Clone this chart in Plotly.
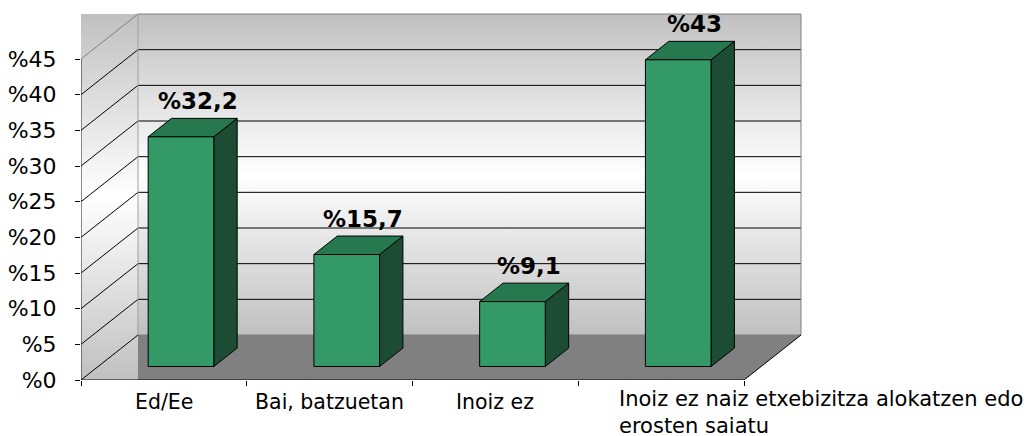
import plotly.graph_objects as go

# ---------------- data ----------------
categories = [
    "Ed/Ee",
    "Bai, batzuetan",
    "Inoiz ez",
    "Inoiz ez naiz etxebizitza alokatzen edo<br>erosten saiatu",
]
values = [32.2, 15.7, 9.1, 43]
y_ticks = [0, 5, 10, 15, 20, 25, 30, 35, 40, 45]
y_tick_labels = ["%" + str(t) for t in y_ticks]

# ---------------- layout constants ----------------
W, H = 1032, 436
L, B, T = 81, 56, 8
R_EDGE = 812
PX_X = 165.75     # pixels per category slot
PX_Y = 7.133      # pixels per percent
plot_w = R_EDGE - L
plot_h = H - B - T

N = len(categories)
YMAX = y_ticks[-1]
DX = 57 / PX_X    # depth offset (x) in axis units
DY = 45 / PX_Y    # depth offset (y) in axis units
BAR_W = 0.396
F1, F2 = 0.30, 0.71

FONT = "DejaVu Sans"
C_FRONT, C_TOP, C_SIDE = "#339966", "#26784f", "#1c4c33"
WALL_SCALE = [[0, "#c0c0c0"], [0.5, "#ffffff"], [1, "#c0c0c0"]]

fig = go.Figure()


def poly(xs, ys, fill=None, line="black", width=1, gradient=None):
    kw = dict(x=xs + [xs[0]], y=ys + [ys[0]], mode="lines",
              line=dict(color=line, width=width), hoverinfo="skip",
              showlegend=False)
    if fill or gradient:
        kw["fill"] = "toself"
        kw["fillcolor"] = fill if fill else "#ffffff"
        if gradient:
            kw["fillgradient"] = dict(type="vertical", colorscale=gradient)
    fig.add_trace(go.Scatter(**kw))


def seg(x0, y0, x1, y1, color="black", width=1):
    fig.add_trace(go.Scatter(x=[x0, x1], y=[y0, y1], mode="lines",
                             line=dict(color=color, width=width),
                             hoverinfo="skip", showlegend=False))


# left wall (rendered as a rectangle)
poly([0, DX, DX, 0], [0, 0, YMAX + DY, YMAX + DY],
     line="rgba(0,0,0,0)", width=0, gradient=WALL_SCALE)
# back wall
poly([DX, N + DX, N + DX, DX], [DY, DY, YMAX + DY, YMAX + DY],
     line="rgba(0,0,0,0)", width=0, gradient=WALL_SCALE)

# gridlines on walls
for t in y_ticks:
    edge = t in (y_ticks[0], y_ticks[-1])
    seg(0, t, DX, t + DY, "#808080" if t == YMAX else "black")
    seg(DX, t + DY, N + DX, t + DY, "#808080" if edge else "black")
seg(DX, DY, DX, YMAX + DY, "#a0a0a0")
seg(N + DX, DY, N + DX, YMAX + DY, "#808080")

# floor
poly([DX, N, N + DX, DX], [0, 0, DY, DY], fill="#808080",
     line="rgba(0,0,0,0)", width=0)
seg(N, 0, N + DX, DY, "black")
seg(0, 0, N, 0, "black")
seg(0, 0, 0, YMAX, "#202020")

# bars
d = F2 - F1
for i, v in enumerate(values):
    c = i + 0.5
    x0 = c - BAR_W / 2 + F1 * DX
    x1 = c + BAR_W / 2 + F1 * DX
    yb = F1 * DY
    yt = v + F1 * DY
    ox, oy = d * DX, d * DY
    poly([x1, x1 + ox, x1 + ox, x1], [yb, yb + oy, yt + oy, yt], fill=C_SIDE)
    poly([x0, x1, x1 + ox, x0 + ox], [yt, yt, yt + oy, yt + oy], fill=C_TOP)
    poly([x0, x1, x1, x0], [yb, yb, yt, yt], fill=C_FRONT)
    fig.add_annotation(x=(x0 + x1) / 2 + ox / 2, y=yt + oy,
                       text="<b>%" + f"{v:g}".replace(".", ",") + "</b>",
                       showarrow=False, xanchor="center", yanchor="middle",
                       xshift=5, yshift=17,
                       font=dict(family=FONT, size=23, color="black"))

# category labels
for i, cat in enumerate(categories):
    last = i == N - 1
    fig.add_annotation(x=i + 0.5, y=0, text=cat, showarrow=False,
                       xanchor="left" if last else "center",
                       xshift=-44 if last else 0,
                       align="left", yanchor="top",
                       yshift=-5 if last else -8,
                       font=dict(family=FONT, size=21 if last else 20.5,
                                 color="black"))

fig.update_layout(
    width=W, height=H,
    margin=dict(l=L, r=W - R_EDGE, t=T, b=B, pad=0),
    paper_bgcolor="white", plot_bgcolor="rgba(0,0,0,0)",
    showlegend=False, hovermode=False,
    font=dict(family=FONT, color="black"),
    xaxis=dict(range=[0, plot_w / PX_X], showgrid=False, zeroline=False,
               showline=False, tickvals=list(range(N + 1)),
               showticklabels=False, ticks="outside", ticklen=5,
               tickcolor="black", fixedrange=True),
    yaxis=dict(range=[0, plot_h / PX_Y], showgrid=False, zeroline=False,
               showline=False, tickvals=y_ticks, ticktext=y_tick_labels,
               ticks="outside", ticklen=5, tickcolor="black",
               ticklabelstandoff=14,
               tickfont=dict(family=FONT, size=22, color="black"),
               fixedrange=True),
)

fig.write_html("out.html",
               config={"displayModeBar": False},
               post_script="document.body.style.margin='0px';")
